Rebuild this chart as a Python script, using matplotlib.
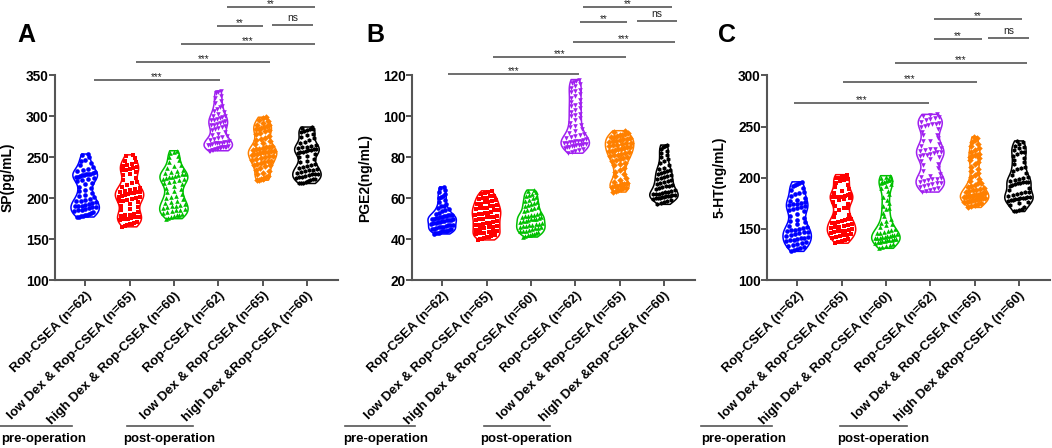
import numpy as np
import matplotlib
matplotlib.use('Agg')
import matplotlib.pyplot as plt

plt.rcParams['font.family'] = ['Liberation Sans', 'DejaVu Sans']

# ---------------- data ----------------
categories = ["Rop-CSEA (n=62)", "low Dex & Rop-CSEA (n=65)", "high Dex & Rop-CSEA (n=60)",
              "Rop-CSEA (n=62)", "low Dex & Rop-CSEA (n=65)", "high Dex &Rop-CSEA (n=60)"]
colors = ['#0000FF', '#FF0000', '#00C000', '#A020F0', '#FF8000', '#000000']
markers = ['o', 's', '^', 'v', 'D', 'h']

sp_pre_rop = [254, 253, 250, 247, 246, 243, 241, 238, 236, 235, 233, 232, 231, 230, 230, 229, 228, 228, 227, 226,
              226, 225, 224, 222, 221, 219, 217, 214, 212, 210, 209, 206, 204, 203, 201, 199, 198, 197, 195, 194,
              193, 192, 191, 191, 190, 189, 189, 188, 187, 186, 185, 184, 183, 182, 181, 180, 179, 178, 178, 177,
              177, 196]
sp_pre_low = [253, 251, 249, 246, 244, 242, 240, 239, 238, 237, 236, 235, 234, 232, 230, 228, 225, 222, 220, 218,
              216, 214, 212, 211, 210, 209, 208, 207, 207, 206, 206, 205, 204, 203, 202, 201, 200, 199, 198, 197,
              195, 193, 191, 189, 187, 185, 183, 181, 180, 179, 178, 177, 177, 176, 175, 174, 173, 171, 170, 169,
              168, 167, 166, 165, 196]
sp_pre_high = [258, 257, 255, 252, 250, 247, 244, 241, 239, 237, 235, 233, 232, 231, 230, 229, 228, 227, 226, 226,
               225, 224, 223, 222, 221, 220, 219, 217, 215, 213, 211, 209, 207, 205, 203, 201, 199, 197, 195, 194,
               193, 192, 191, 190, 189, 188, 187, 186, 185, 184, 183, 182, 181, 180, 179, 178, 177, 176, 175, 200]
sp_post_rop = [331, 330, 328, 325, 322, 319, 316, 313, 311, 309, 307, 305, 303, 301, 300, 299, 298, 297, 296, 295,
               294, 293, 292, 291, 290, 289, 288, 287, 285, 283, 281, 279, 277, 275, 273, 272, 271, 270, 269, 269,
               268, 268, 267, 267, 266, 265, 265, 264, 263, 263, 262, 262, 261, 261, 260, 260, 259, 259, 258, 258,
               286, 276]
sp_post_low = [299, 298, 296, 294, 292, 290, 289, 288, 287, 286, 285, 284, 283, 282, 280, 278, 276, 274, 272, 270,
               268, 266, 264, 263, 262, 261, 260, 259, 258, 258, 257, 256, 256, 255, 254, 254, 253, 252, 251, 250,
               249, 248, 247, 246, 245, 244, 243, 242, 241, 240, 239, 237, 235, 233, 231, 229, 227, 226, 225, 224,
               223, 222, 222, 271, 260]
sp_post_high = [287, 286, 285, 284, 283, 282, 281, 279, 277, 275, 273, 271, 269, 267, 265, 264, 263, 262, 261, 260,
                259, 259, 258, 257, 256, 255, 254, 252, 250, 248, 246, 244, 242, 240, 238, 237, 236, 235, 234, 233,
                232, 231, 230, 229, 228, 227, 226, 225, 224, 223, 222, 221, 220, 219, 218, 218, 260, 239, 230, 226]

pge2_pre_rop = [65.5, 65, 64, 63, 62, 61, 60, 59, 58, 57, 56, 55, 54.5, 54, 53.5, 53, 52.5, 52, 51.8, 51.5,
                51.2, 51, 50.8, 50.5, 50.3, 50, 50, 49.8, 49.5, 49.3, 49, 48.8, 48.5, 48.2, 48, 47.7, 47.4, 47,
                46.7, 46.4, 46, 45.7, 45.4, 45, 44.8, 44.5, 44.2, 44, 43.8, 43.5, 43.2, 43, 42.8, 42.5, 49.5, 47,
                45, 56, 60.5, 52, 46, 44]
pge2_pre_low = [63.6, 63, 62.4, 62, 61.3, 61, 60.2, 59.5, 59, 58.6, 58, 57.3, 57, 56.6, 56, 55.4, 55, 54.6, 54,
                53.3, 53, 52.5, 52.1, 51.4, 51, 50.6, 50, 49.4, 49, 48.6, 48, 47.3, 47, 46.6, 46, 45.4, 45, 44.6,
                44, 43.3, 43, 42.6, 42, 41.4, 41, 40.5, 40, 39.6, 58, 56, 54, 52, 50, 48, 46, 44, 42, 41, 40, 55,
                51, 47, 43, 60, 53]
pge2_pre_high = [64, 63.5, 63, 62, 61.5, 61, 60, 59, 58.5, 58, 57, 56.5, 56, 55, 54.5, 54, 53.5, 53, 52.5, 52,
                 51.5, 51.2, 51, 50.7, 50.4, 50, 49.6, 49.2, 48.8, 48.4, 48, 47.6, 47.2, 46.8, 46.5, 46.2, 46,
                 45.7, 45.4, 45, 44.6, 44.2, 43.8, 43.4, 43, 42.6, 42.2, 41.8, 41.4, 41, 52, 50, 47, 45.5, 44, 57.5,
                 60.5, 55.5, 49, 42.5]
pge2_post_rop = [118, 117.5, 117, 116.5, 116, 115, 114, 113, 112, 111, 110, 109, 108, 107, 106, 105, 104, 103, 102,
                 101, 100, 99, 98, 97, 96, 95, 94, 93, 92, 91.5, 91, 90.5, 90, 89.5, 89, 88.5, 88, 88, 87.5, 87.5,
                 87, 87, 86.5, 86.5, 86, 86, 85.5, 85.5, 85, 85, 84.5, 84, 83.5, 83, 82.5, 82, 112.5, 105.5, 100.5,
                 95.5, 88, 86]
pge2_post_low = [93, 92.5, 92, 91.5, 91, 90.5, 90, 89.5, 89, 88.5, 88, 87.5, 87, 86.5, 86, 85.5, 85, 84.5, 84, 83.5,
                 83, 82.5, 82, 81.5, 81, 80.5, 80, 79, 78, 77, 76, 75, 74, 73, 72, 71, 70, 69, 68, 67.5, 67, 66.5,
                 66, 65.5, 65, 64.5, 64, 63.5, 63, 91, 89, 87, 85, 83, 81, 79.5, 78.5, 76.5, 67, 66, 65, 84, 86, 88,
                 90]
pge2_post_high = [86, 85.5, 85, 84, 83, 82, 81, 80, 79, 78, 77, 76, 75, 74.5, 74, 73.5, 73, 72.5, 72, 71.5, 71,
                  70.5, 70, 69.5, 69, 68.5, 68, 67.5, 67, 66.5, 66, 65.5, 65, 64.5, 64, 63.5, 63, 62.5, 62, 62,
                  61.5, 61.5, 61, 61, 60.5, 60.5, 60, 60, 59.5, 59, 58.5, 58, 57.5, 57, 63, 62, 61, 60, 66]

ht_pre_rop = [196, 195, 194, 193, 192, 190, 188, 186, 184, 182, 180, 178, 177, 176, 175, 174, 174, 173, 172, 171,
              170, 169, 167, 165, 163, 161, 159, 157, 155, 153, 152, 151, 150, 149, 149, 148, 147, 146, 145, 144,
              143, 142, 141, 140, 139, 139, 138, 137, 136, 135, 134, 133, 132, 131, 130, 129, 128, 185, 168, 158,
              147, 141]
ht_pre_low = [203, 202, 201, 200, 200, 199, 198, 197, 195, 193, 191, 189, 187, 185, 184, 183, 182, 181, 181, 181,
              181, 180, 179, 178, 176, 174, 172, 170, 168, 166, 164, 162, 160, 159, 158, 157, 156, 155, 154, 153,
              152, 151, 150, 149, 148, 148, 147, 146, 145, 144, 143, 142, 141, 140, 139, 138, 137, 136, 160, 156,
              152, 148, 144, 181, 170]
ht_pre_high = [202, 201, 200, 199, 198, 197, 196, 196, 195, 194, 192, 190, 187, 184, 181, 178, 175, 172, 169, 166,
               163, 160, 158, 156, 154, 152, 150, 149, 148, 147, 146, 145, 144, 143, 143, 142, 142, 141, 141, 140,
               140, 139, 139, 138, 138, 137, 137, 136, 135, 134, 133, 132, 131, 146, 144, 141, 139, 170, 155, 198]
ht_post_rop = [262, 261, 260, 259, 258, 257, 256, 255, 254, 253, 252, 251, 250, 248, 245, 242, 239, 236, 233, 231,
               229, 228, 227, 226, 225, 224, 223, 222, 221, 220, 218, 216, 213, 210, 207, 204, 202, 201, 200, 199,
               198, 197, 196, 195, 194, 193, 192, 191, 190, 189, 188, 187, 186, 253, 225, 228, 222, 199, 195, 242,
               212, 236]
ht_post_low = [240, 239, 237, 235, 233, 231, 229, 227, 225, 223, 222, 221, 220, 219, 217, 215, 213, 211, 209, 207,
               205, 203, 201, 199, 197, 195, 193, 192, 191, 190, 189, 188, 187, 186, 185, 184, 184, 183, 183, 182,
               182, 181, 181, 180, 180, 179, 179, 178, 178, 177, 177, 176, 176, 175, 174, 173, 172, 171, 183, 182,
               185, 180, 188, 222, 195]
ht_post_high = [236, 235, 233, 231, 229, 227, 225, 223, 221, 219, 217, 215, 213, 211, 209, 207, 205, 203, 201, 200,
                199, 198, 197, 196, 196, 195, 195, 194, 193, 192, 190, 188, 186, 185, 184, 183, 182, 181, 181, 180,
                180, 179, 179, 178, 177, 176, 175, 173, 171, 169, 168, 167, 167, 196, 180, 210, 225, 186, 178, 230]

sp_data = [sp_pre_rop, sp_pre_low, sp_pre_high, sp_post_rop, sp_post_low, sp_post_high]
pge2_data = [pge2_pre_rop, pge2_pre_low, pge2_pre_high, pge2_post_rop, pge2_post_low, pge2_post_high]
ht_data = [ht_pre_rop, ht_pre_low, ht_pre_high, ht_post_rop, ht_post_low, ht_post_high]

# comparison bars: (x_start, x_end, y, label)
sp_comps = [(0.2, 3.04, 344, '***'), (1.15, 4.17, 366, '***'), (2.16, 5.18, 389, '***'),
            (2.97, 4.0, 411, '**'), (4.21, 5.13, 412, 'ns'), (3.2, 5.18, 434, '**')]
pge2_comps = [(0.14, 3.09, 120.5, '***'), (1.15, 4.14, 129, '***'), (2.95, 5.25, 136.5, '***'),
              (3.11, 4.17, 146, '**'), (4.39, 5.29, 146.5, 'ns'), (3.18, 5.18, 153.3, '**')]
ht_comps = [(-0.07, 2.97, 273.5, '***'), (1.04, 4.05, 294, '***'), (2.2, 5.18, 312, '***'),
            (3.09, 4.17, 336, '**'), (4.3, 5.23, 337, 'ns'), (3.09, 5.07, 355, '**')]

panels = [
    dict(letter='A', ylabel='SP(pg/mL)', data=sp_data, ylim=(100, 350), yticks=[100, 150, 200, 250, 300, 350],
         comps=sp_comps, left=55, letter_x=17, pre=(1, 0, 72), post=(123, 127, 193)),
    dict(letter='B', ylabel='PGE2(ng/mL)', data=pge2_data, ylim=(20, 120), yticks=[20, 40, 60, 80, 100, 120],
         comps=pge2_comps, left=412, letter_x=366, pre=(343, 345, 415), post=(480, 484, 550)),
    dict(letter='C', ylabel='5-HT(ng/mL)', data=ht_data, ylim=(100, 300), yticks=[100, 150, 200, 250, 300],
         comps=ht_comps, left=767, letter_x=718, pre=(701, 701, 772), post=(837, 840, 907)),
]

# ---------------- layout ----------------
W, H = 1052, 448
fig = plt.figure(figsize=(W / 100, H / 100), dpi=100)
top_px, bot_px, width_px = 75.5, 280, 283
axis_color = '#555555'
BW = 0.3
VW = 0.64


def kde(vals, grid, bw):
    v = np.asarray(vals, float)
    s = v.std(ddof=1) * bw
    return np.exp(-0.5 * ((np.asarray(grid)[:, None] - v[None, :]) / s) ** 2).sum(1)


def swarm_offsets(vals, halfw, bw, bin_h):
    v = np.asarray(vals, float)
    grid = np.linspace(v.min(), v.max(), 300)
    dmax = kde(v, grid, bw).max()
    rel = kde(v, v, bw) / dmax
    xs = np.zeros(len(v))
    bins = np.floor((v - v.min()) / bin_h).astype(int)
    for b in np.unique(bins):
        idx = np.where(bins == b)[0]
        idx = idx[np.argsort(v[idx], kind='stable')]
        k = len(idx)
        w = halfw * rel[idx].mean() * 0.78
        if k == 1:
            xs[idx] = w * 0.45 * (1 if b % 2 else -1)
        else:
            xs[idx] = np.linspace(-w, w, k)
    return xs


for p in panels:
    ax = fig.add_axes([p['left'] / W, 1 - bot_px / H, width_px / W, (bot_px - top_px) / H])
    ymin, ymax = p['ylim']
    pos = np.arange(len(categories))
    vp = ax.violinplot(p['data'], positions=pos, widths=VW, showextrema=False, bw_method=BW)
    for body, c in zip(vp['bodies'], colors):
        body.set_facecolor('none')
        body.set_edgecolor(c)
        body.set_linewidth(1.1)
        body.set_alpha(1)
    px_per_unit = (bot_px - top_px) / (ymax - ymin)
    bin_h = 5.0 / px_per_unit
    for i, (vals, c, m) in enumerate(zip(p['data'], colors, markers)):
        xo = swarm_offsets(vals, VW / 2, BW, bin_h)
        ax.scatter(pos[i] + xo, vals, s=11, color=c, marker=m, linewidths=0, zorder=3)

    ax.set_xlim(-0.68, 5.7)
    ax.set_ylim(ymin, ymax)
    ax.set_yticks(p['yticks'])
    ax.set_xticks(pos)
    ax.set_xticklabels(categories, rotation=45, ha='right', rotation_mode='anchor',
                       fontsize=9.5, fontweight='bold')
    for lab in ax.get_yticklabels():
        lab.set_fontweight('bold')
        lab.set_fontsize(9.8)
    for s in ['top', 'right']:
        ax.spines[s].set_visible(False)
    for s in ['left', 'bottom']:
        ax.spines[s].set_linewidth(1.5)
        ax.spines[s].set_color(axis_color)
    ax.tick_params(axis='both', width=1.4, length=4, color=axis_color, pad=0.5)
    ax.tick_params(axis='x', pad=3)
    ax.set_ylabel(p['ylabel'], fontsize=10, fontweight='bold')
    ax.yaxis.set_label_coords(-0.142, 0.5)

    for (x0, x1, y, lab) in p['comps']:
        ax.plot([x0, x1], [y, y], color=axis_color, lw=1.2, clip_on=False, solid_capstyle='butt')
        off = 0.0 if lab != 'ns' else 3.0
        fs = 7 if lab != 'ns' else 7.5
        ax.annotate(lab, xy=((x0 + x1) / 2, y), xytext=(0, off), textcoords='offset points',
                    ha='center', va='baseline', fontsize=fs, color='#222222', annotation_clip=False)

    fig.text(p['letter_x'] / W, 1 - 35 / H, p['letter'], fontsize=18, fontweight='bold',
             ha='left', va='center')

    # group labels
    tx, lx0, lx1 = p['pre']
    fig.add_artist(plt.Line2D([lx0 / W, lx1 / W], [1 - 426 / H, 1 - 426 / H], color=axis_color, lw=1.2))
    fig.text(tx / W, 1 - 439 / H, 'pre-operation', fontsize=9.5, fontweight='bold', ha='left', va='center')
    tx, lx0, lx1 = p['post']
    fig.add_artist(plt.Line2D([lx0 / W, lx1 / W], [1 - 426 / H, 1 - 426 / H], color=axis_color, lw=1.2))
    fig.text(tx / W, 1 - 439 / H, 'post-operation', fontsize=9.5, fontweight='bold', ha='left', va='center')

fig.savefig('out.png', dpi=100)
